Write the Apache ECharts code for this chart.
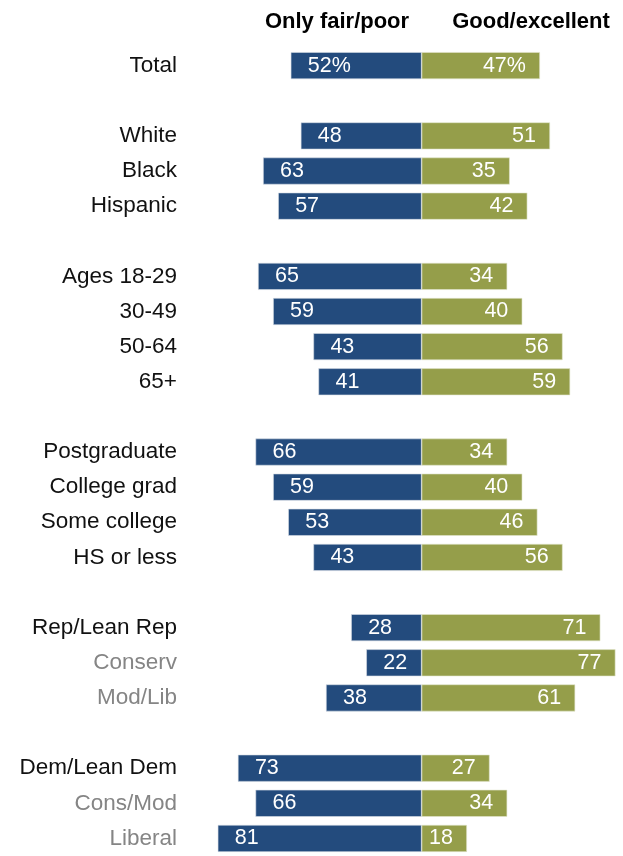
<!DOCTYPE html>
<html>
<head>
<meta charset="utf-8">
<script src="https://cdn.jsdelivr.net/npm/echarts@6/dist/echarts.min.js"></script>
<style>
html,body{margin:0;padding:0;background:#fff;}
#chart{width:623px;height:856px;}
</style>
</head>
<body>
<div id="chart"></div>
<script>
// Categories ('' = spacer row between groups)
const categories = ['Total','','White','Black','Hispanic','','Ages 18-29','30-49','50-64','65+','',
  'Postgraduate','College grad','Some college','HS or less','',
  'Rep/Lean Rep','Conserv','Mod/Lib','','Dem/Lean Dem','Cons/Mod','Liberal'];
const grayLabels = ['Conserv','Mod/Lib','Cons/Mod','Liberal'];
const fairPoor = [52,null,48,63,57,null,65,59,43,41,null,66,59,53,43,null,28,22,38,null,73,66,81];
const goodExcellent = [47,null,51,35,42,null,34,40,56,59,null,34,40,46,56,null,71,77,61,null,27,34,18];
const seriesNames = ['Only fair/poor','Good/excellent'];

const BLUE = '#234b7d', OLIVE = '#959e4a';
const FONT = '"Liberation Sans", Arial, sans-serif';

const chart = echarts.init(document.getElementById('chart'), null, {renderer:'canvas'});

const pxPerUnit = 2.545, center = 424, xMin = -85, xMax = 80;
const gridLeft = center + xMin * pxPerUnit;
const gridWidth = (xMax - xMin) * pxPerUnit;
const rowH = 35.45, firstCenter = 65.8;

chart.setOption({
  animation:false,
  backgroundColor:'#fff',
  graphic:[
    {type:'text', x: 337, y: 22, style:{text:seriesNames[0], font:'bold 22px '+FONT, fill:'#000', align:'center', verticalAlign:'middle'}},
    {type:'text', x: 531, y: 22, style:{text:seriesNames[1], font:'bold 22px '+FONT, fill:'#000', align:'center', verticalAlign:'middle'}}
  ],
  grid:{left:gridLeft, width:gridWidth, top:firstCenter - rowH/2, height:rowH*categories.length, containLabel:false},
  xAxis:{type:'value', min:xMin, max:xMax, show:false},
  yAxis:{type:'category', data:categories, inverse:true,
    axisLine:{show:false}, axisTick:{show:false}, splitLine:{show:false},
    axisLabel:{
      margin: gridLeft - 177,
      fontSize:22.5, fontFamily:FONT, color:'#111',
      formatter:function(v){ return grayLabels.indexOf(v) >= 0 ? '{g|'+v+'}' : v; },
      rich:{g:{color:'#858585', fontSize:22.5, fontFamily:FONT}}
    }
  },
  series:[
    {name:seriesNames[0], type:'bar', stack:'s', barWidth:27,
     data:fairPoor.map(v => v==null ? null : -v),
     itemStyle:{color:BLUE, borderColor:'#d7dde6', borderWidth:0.6},
     label:{show:true, position:'insideLeft', distance:17, color:'#fff', fontSize:21.5, fontFamily:FONT,
       formatter:function(p){ return Math.abs(p.value) + (p.dataIndex===0?'%':''); }}
    },
    {name:seriesNames[1], type:'bar', stack:'s2', barWidth:27, barGap:'-100%',
     data:goodExcellent,
     itemStyle:{color:OLIVE, borderColor:'#e3e6cf', borderWidth:0.6},
     label:{show:true, position:'insideRight', distance:14, color:'#fff', fontSize:21.5, fontFamily:FONT,
       formatter:function(p){ return p.value + (p.dataIndex===0?'%':''); }}
    }
  ]
});
</script>
</body>
</html>
